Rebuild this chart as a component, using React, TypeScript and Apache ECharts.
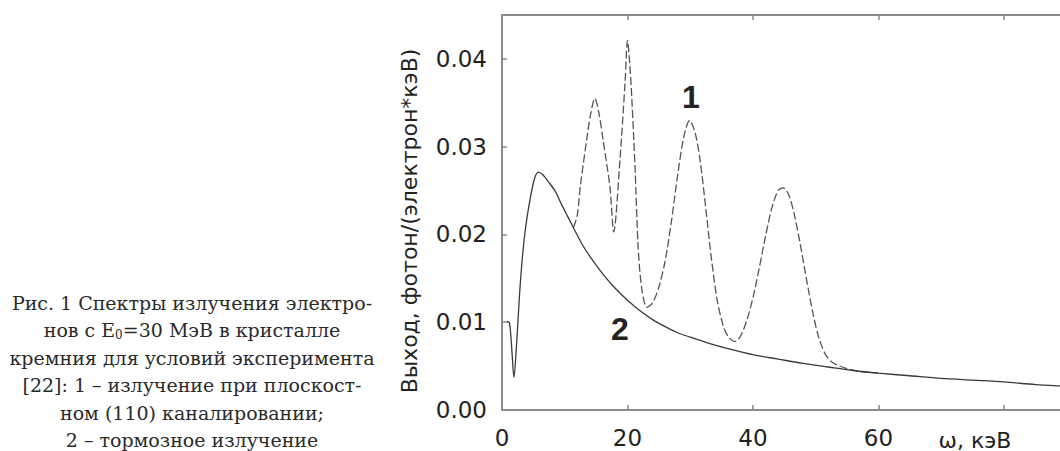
import React, { useEffect, useRef } from "react";
import * as echarts from "echarts";

// Curve 2: bremsstrahlung (solid)
const curve2X = [0.8, 1.2, 1.6, 1.9, 2.3, 2.8, 3.3, 3.8, 4.5, 5.2, 5.8, 6.5, 7.5, 8.5, 9.5, 10.5, 11.5, 13, 14.8, 16.5, 18, 20, 22, 24, 26, 28, 30, 33, 36, 40, 44, 48, 52, 56, 60, 65, 70, 75, 80, 85, 90, 95, 100];
const curve2Y = [0.0101, 0.0099, 0.0065, 0.0037, 0.0072, 0.0132, 0.0178, 0.021, 0.0241, 0.0264, 0.0271, 0.0268, 0.0259, 0.0249, 0.0234, 0.022, 0.0206, 0.0186, 0.0167, 0.0151, 0.0139, 0.0125, 0.0113, 0.0103, 0.0095, 0.0088, 0.0083, 0.0076, 0.007, 0.0063, 0.0058, 0.0053, 0.0049, 0.0045, 0.0042, 0.0039, 0.0036, 0.0034, 0.0032, 0.0029, 0.0027, 0.0025, 0.0024];

// Curve 1: planar (110) channeling radiation (dashed)
const curve1X = [11.4, 12.0, 12.5, 13.5, 14.2, 14.8, 15.4, 16.1, 17.2, 17.8, 18.8, 19.6, 20.0, 20.4, 20.7, 21.2, 21.7, 22.3, 23.1, 24, 25, 26, 27, 28, 29, 29.9, 30.8, 31.6, 32.5, 33.4, 34.3, 35.3, 36.2, 37.1, 38, 39, 40, 41, 42, 43, 44, 44.8, 45.7, 46.6, 47.5, 48.5, 49.5, 50.5, 51.5, 52.5, 53.5, 55, 57, 60];
const curve1Y = [0.0208, 0.0222, 0.0256, 0.0308, 0.034, 0.0355, 0.034, 0.0308, 0.0254, 0.0203, 0.0285, 0.0372, 0.0421, 0.039, 0.0353, 0.0277, 0.0185, 0.0137, 0.0117, 0.0122, 0.014, 0.017, 0.0215, 0.0268, 0.0312, 0.033, 0.0315, 0.0283, 0.0228, 0.0171, 0.0125, 0.0095, 0.0082, 0.0078, 0.0084, 0.0102, 0.0128, 0.0162, 0.0198, 0.023, 0.025, 0.0253, 0.0245, 0.0222, 0.019, 0.015, 0.0112, 0.0082, 0.0064, 0.0055, 0.0051, 0.0047, 0.0044, 0.0042];

const xLabelsShown = [0, 20, 40, 60];
const xAxisTitle = "ω, кэВ";
const yAxisTitle = "Выход, фотон/(электрон*кэВ)";
const curveLabels = ["1", "2"];
const captionLines = [
  "Рис. 1 Спектры излучения электро-",
  "нов с E{sub|0}=30 МэВ в кристалле",
  "кремния для условий эксперимента",
  "[22]: 1 – излучение при плоскост-",
  "ном (110) каналировании;",
  "2 – тормозное излучение",
];

const AXIS = "#8a8a8a";
const TXT = "#222";
const SANS = "DejaVu Sans";

export default function App() {
  const ref = useRef<HTMLDivElement>(null);
  useEffect(() => {
    const chart = echarts.init(ref.current!, null, { renderer: "svg" });
    const s2 = curve2X.map((x, i) => [x, curve2Y[i]]);
    const s1 = curve1X.map((x, i) => [x, curve1Y[i]]);
    const xCommon = {
      type: "value",
      min: 0,
      max: 100,
      interval: 20,
      splitLine: { show: false },
      axisLine: { show: true, onZero: false, lineStyle: { color: AXIS, width: 2 } },
      axisTick: { show: true, inside: true, length: 5, lineStyle: { color: AXIS, width: 1.5 } },
    };
    const graphic: any[] = captionLines.map((t, i) => ({
      type: "text",
      x: 192,
      y: 303 + i * 27.4,
      style: {
        text: t,
        fontFamily: "DejaVu Serif",
        fontSize: 19,
        fill: "#2a2a2a",
        align: "center",
        verticalAlign: "middle",
        rich: {
          sub: { fontSize: 12, fontFamily: "DejaVu Serif", fill: "#2a2a2a", padding: [10, 0, 0, 0] },
        },
      },
    }));
    graphic.push(
      {
        type: "text",
        x: 975,
        y: 440,
        style: { text: xAxisTitle, fontFamily: SANS, fontSize: 22, fill: TXT, align: "center", verticalAlign: "middle" },
      },
      {
        type: "text",
        x: 409,
        y: 221,
        rotation: Math.PI / 2,
        style: { text: yAxisTitle, fontFamily: SANS, fontSize: 22, fill: TXT, align: "center", verticalAlign: "middle" },
      },
      {
        type: "text",
        x: 691,
        y: 97,
        style: { text: curveLabels[0], fontFamily: "Liberation Sans", fontWeight: "bold", fontSize: 32, fill: TXT, align: "center", verticalAlign: "middle" },
      },
      {
        type: "text",
        x: 620,
        y: 329,
        style: { text: curveLabels[1], fontFamily: "Liberation Sans", fontWeight: "bold", fontSize: 32, fill: TXT, align: "center", verticalAlign: "middle" },
      }
    );
    chart.setOption({
      animation: false,
      backgroundColor: "#fff",
      grid: { left: 502, top: 15, bottom: 41, width: 627.5, containLabel: false },
      xAxis: [
        {
          ...xCommon,
          position: "bottom",
          axisLabel: {
            margin: 16,
            fontSize: 23,
            fontFamily: SANS,
            color: TXT,
            formatter: (v: number) => (xLabelsShown.includes(Math.round(v)) ? String(Math.round(v)) : ""),
          },
        },
        { ...xCommon, position: "top", axisLabel: { show: false } },
      ],
      yAxis: {
        type: "value",
        min: 0,
        max: 0.045,
        interval: 0.01,
        splitLine: { show: false },
        axisLine: { show: true, onZero: false, lineStyle: { color: AXIS, width: 2 } },
        axisTick: { show: true, inside: true, length: 5, lineStyle: { color: AXIS, width: 1.5 } },
        axisLabel: {
          margin: 15,
          fontSize: 23,
          fontFamily: SANS,
          color: TXT,
          formatter: (v: number) => (Math.abs(v * 100 - Math.round(v * 100)) > 1e-6 ? "" : v.toFixed(2)),
        },
      },
      series: [
        {
          type: "line",
          name: "2",
          data: s2,
          showSymbol: false,
          smooth: 0.3,
          lineStyle: { color: "#3a3a3a", width: 1.3 },
          z: 3,
        },
        {
          type: "line",
          name: "1",
          data: s1,
          showSymbol: false,
          smooth: 0.3,
          lineStyle: { color: "#555", width: 1.3, type: [8, 3] },
          z: 2,
        },
      ],
      graphic,
    });
    return () => chart.dispose();
  }, []);
  return (
    <div style={{ position: "fixed", left: 0, top: 0, width: 1060, height: 451, overflow: "hidden", background: "#fff" }}>
      <div ref={ref} style={{ width: 1140, height: 451 }} />
    </div>
  );
}
